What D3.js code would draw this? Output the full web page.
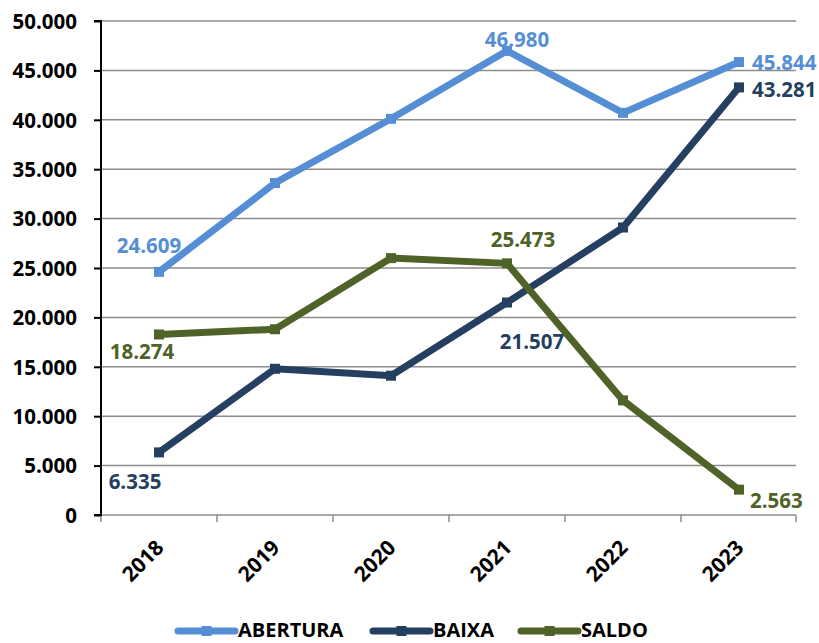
<!DOCTYPE html>
<html><head><meta charset="utf-8">
<script src="https://cdn.jsdelivr.net/npm/d3@7"></script>
<style>
html,body{margin:0;padding:0;background:#fff;}
svg{display:block;}
text{font-family:"Open Sans",sans-serif;font-weight:700;}
</style></head>
<body><svg id="c" width="819" height="643"></svg>
<script>
const years = ["2018","2019","2020","2021","2022","2023"];
const abertura = [24609, 33600, 40100, 46980, 40700, 45844];
const baixa = [6335, 14800, 14100, 21507, 29100, 43281];
const saldo = [18274, 18800, 26000, 25473, 11600, 2563];
const yTicks = [0,5000,10000,15000,20000,25000,30000,35000,40000,45000,50000];
const seriesNames = ["ABERTURA","BAIXA","SALDO"];
const labeledIdx = [0,3,5];

const colors = ["#558ED5","#243F60","#4F6228"];
// label offsets (dx, dy, anchor) per series for labeled indices
const labelOff = [
  [[-10,-19,"middle"],[10,-4,"middle"],[13,8,"start"]],
  [[-24,37,"middle"],[25,46,"middle"],[13,10,"start"]],
  [[-17,25,"middle"],[16,-16,"middle"],[11,18,"start"]]
];

const svg = d3.select("#c");
const L=101,R=797,T=21,B=515;
const x = d3.scaleBand().domain(years).range([L,R]);
const y = d3.scaleLinear().domain([0,50000]).range([B,T]);
const fmt = v => d3.format(",")(v).replace(/,/g,".");

// gridlines
svg.append("g").selectAll("line").data(yTicks.filter(d=>d>0)).join("line")
  .attr("x1",L).attr("x2",R-1).attr("y1",d=>y(d)).attr("y2",d=>y(d))
  .attr("stroke","#8c8c8c").attr("stroke-width",1.5);

// bottom axis
const gx = svg.append("g").attr("transform",`translate(0,${B})`)
  .call(d3.axisBottom(x).tickSize(0).tickFormat(""));
gx.select(".domain").remove();
gx.append("line").attr("x1",L).attr("x2",R-1).attr("y1",0).attr("y2",0).attr("stroke","#8c8c8c").attr("stroke-width",1.5);
const bounds = years.map(d=>x(d)).concat([R-1]);
gx.selectAll(".bt").data(bounds).join("line").attr("class","bt")
  .attr("x1",d=>d).attr("x2",d=>d).attr("y1",0).attr("y2",7)
  .attr("stroke","#8c8c8c").attr("stroke-width",1.5);
svg.append("g").selectAll("text").data(years).join("text")
  .attr("transform",d=>`translate(${x(d)+x.bandwidth()/2+6},549) rotate(-45)`)
  .attr("text-anchor","end").attr("font-size",21).attr("fill","#000").text(d=>d);

// left axis
const gy = svg.append("g").attr("transform",`translate(${L},0)`)
  .call(d3.axisLeft(y).tickValues(yTicks).tickSize(7).tickPadding(17).tickFormat(fmt));
gy.select(".domain").attr("stroke","#000").attr("stroke-width",2).attr("d",`M-7,${T}H0V${B}H-7`);
gy.selectAll(".tick line").attr("stroke","#000").attr("stroke-width",2);
gy.selectAll(".tick text").attr("font-size",20.5).attr("fill","#000")
  .attr("font-family","Open Sans").attr("font-weight",700).attr("dy","0.36em");

// series
const data = [abertura,baixa,saldo];
const cx = d => x(d)+x.bandwidth()/2;
const line = d3.line().x((v,i)=>cx(years[i])).y(v=>y(v));
data.forEach((s,k)=>{
  const g = svg.append("g");
  g.append("path").datum(s).attr("d",line).attr("fill","none")
   .attr("stroke",colors[k]).attr("stroke-width",7).attr("stroke-linejoin","miter");
  g.selectAll("rect").data(s).join("rect")
   .attr("x",(v,i)=>cx(years[i])-5).attr("y",v=>y(v)-5)
   .attr("width",10).attr("height",10).attr("fill",colors[k]);
  labeledIdx.forEach((i,j)=>{
    const o = labelOff[k][j];
    g.append("text").attr("x",cx(years[i])+o[0]).attr("y",y(s[i])+o[1])
     .attr("text-anchor",o[2]).attr("font-size",20.5).attr("fill",colors[k]).text(fmt(s[i]));
  });
});

// legend
const legX = [178,373,521];
seriesNames.forEach((n,k)=>{
  const g = svg.append("g").attr("transform",`translate(${legX[k]},631)`);
  g.append("line").attr("x1",0).attr("x2",57).attr("y1",0).attr("y2",0)
   .attr("stroke",colors[k]).attr("stroke-width",7).attr("stroke-linecap","round");
  g.append("rect").attr("x",23.5).attr("y",-5).attr("width",10).attr("height",10).attr("fill",colors[k]);
  g.append("text").attr("x",60).attr("y",6).attr("font-size",20).attr("fill","#000").text(n);
});
</script></body></html>
